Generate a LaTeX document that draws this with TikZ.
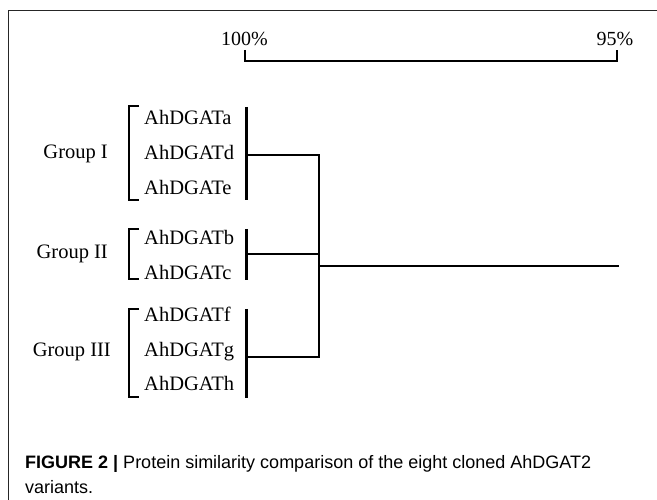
\documentclass[tikz,border=0pt]{standalone}
\usepackage{fontspec}
\setmainfont{Liberation Serif}
\newfontfamily\capfont{Liberation Sans}
\begin{document}
\begin{tikzpicture}[x=1pt,y=-1pt,
  lbl/.style={inner sep=0pt,anchor=base west,font=\fontsize{20.5}{24}\selectfont},
  grp/.style={inner sep=0pt,anchor=base east,font=\fontsize{20.5}{24}\selectfont},
  pct/.style={inner sep=0pt,font=\fontsize{20}{24}\selectfont},
  captext/.style={inner sep=0pt,anchor=base west,font=\capfont\fontsize{18}{25}\selectfont},
  brk/.style={line width=2.5pt,line cap=butt},
  bar/.style={line width=3pt},
  link/.style={line width=2pt},
  frame/.style={line width=1pt,draw=black!85}]
\useasboundingbox (0,0) rectangle (657,500);
% frame
\draw[frame] (8,500) -- (8,10.5) -- (657,10.5);
% scale bar
\node[pct] (p100) at (244.5,39) {100\%};
\node[pct] (p95) at (615,39) {95\%};
\coordinate (s1) at (245,50);
\coordinate (s2) at (617,50);
\draw[link] (s1) -- (245,61) -- (617,61) -- (s2);
% labels
\node[lbl] (a) at (144,124.6) {AhDGATa};
\node[lbl] (d) at (144,159.6) {AhDGATd};
\node[lbl] (e) at (144,194.6) {AhDGATe};
\node[lbl] (b) at (144,244.6) {AhDGATb};
\node[lbl] (c) at (144,279.6) {AhDGATc};
\node[lbl] (f) at (144,321.6) {AhDGATf};
\node[lbl] (g) at (144,356.6) {AhDGATg};
\node[lbl] (h) at (144,390.6) {AhDGATh};
\node[grp] (g1) at (108,158.6) {Group I};
\node[grp] (g2) at (108,258.6) {Group II};
\node[grp] (g3) at (111,356.6) {Group III};
% brackets
\draw[brk] (139,106) -- (129,106) -- (129,200) -- (139,200);
\draw[brk] (139,229) -- (129,229) -- (129,279) -- (139,279);
\draw[brk] (139,309) -- (129,309) -- (129,397) -- (139,397);
% bars
\draw[bar] (246,107) -- (246,200);
\draw[bar] (246,229) -- (246,280);
\draw[bar] (246,309) -- (246,398);
% tree
\coordinate (n1) at (246,155);
\coordinate (n2) at (246,254);
\coordinate (n3) at (246,357);
\coordinate (j1) at (319,155);
\coordinate (j2) at (319,254);
\coordinate (j3) at (319,357);
\coordinate (jm) at (319,266);
\coordinate (root) at (619,266);
\draw[link] (n1) -- (j1) -- (j3) -- (n3);
\draw[link] (n2) -- (j2);
\draw[link] (jm) -- (root);
% caption
\node[captext] (cap1) at (25,468.5)
  {\textbf{FIGURE 2 |} Protein similarity comparison of the eight cloned AhDGAT2};
\node[captext] (cap2) at (25,493.5) {variants.};
\end{tikzpicture}
\end{document}
